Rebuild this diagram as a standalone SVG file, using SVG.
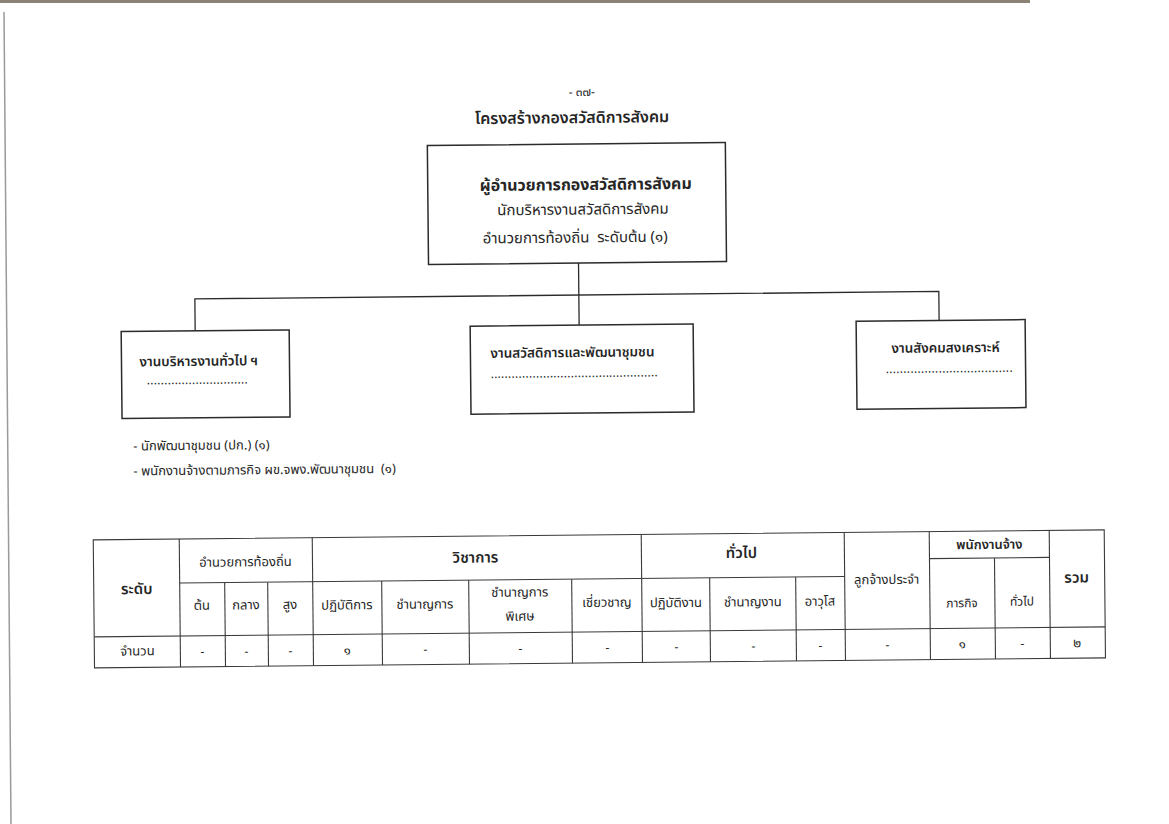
<svg xmlns="http://www.w3.org/2000/svg" width="1169" height="824" viewBox="0 0 1169 824">
<style>
text{font-family:"Noto Sans Thai","Noto Sans","DejaVu Sans",sans-serif;fill:#262626;white-space:pre;}
.box{fill:none;stroke:#2b2b2b;stroke-width:1.5;}
.ln{stroke:#2b2b2b;stroke-width:1.3;fill:none;}
.tl{stroke:#3a3a3a;stroke-width:1.1;fill:none;}
.c{text-anchor:middle;dominant-baseline:central;}
.s13{font-size:13px;}
.s12{font-size:12px;}
.s15{font-size:15px;}
.b{font-weight:bold;}
.m{font-weight:600;}
</style>
<rect x="0" y="0" width="1169" height="824" fill="#ffffff"/>
<rect x="0" y="0" width="1030" height="3" fill="#8b8375"/>
<line x1="4" y1="12" x2="11" y2="824" stroke="#9a9a9a" stroke-width="1.5"/>
<g transform="rotate(-0.57 585 412)">
<g id="page-header">
<text class="c s12" x="585" y="92">- ๓๗-</text>
<text class="c m" x="575" y="118" font-size="16">โครงสร้างกองสวัสดิการสังคม</text>
</g>
<g id="connectors">
<line class="ln" x1="580" y1="263" x2="580" y2="325"/>
<polyline class="ln" points="196,327 196,295 940,295 940,324"/>
</g>
<g id="node-director">
<rect class="box" x="430" y="144" width="298" height="119"/>
<text class="c b" x="588" y="185" font-size="16">ผู้อำนวยการกองสวัสดิการสังคม</text>
<text class="c s15" x="585" y="210">นักบริหารงานสวัสดิการสังคม</text>
<text class="c s15" x="577" y="238" xml:space="preserve">อำนวยการท้องถิ่น  ระดับต้น (๑)</text>
</g>
<g id="node-general">
<rect class="box" x="122" y="327" width="168" height="87"/>
<text class="m" x="140" y="358" font-size="13.5" dominant-baseline="central">งานบริหารงานทั่วไป ฯ</text>
<text class="s12" x="147" y="380" textLength="101" lengthAdjust="spacing">.............................</text>
</g>
<g id="node-welfare">
<rect class="box" x="471" y="325" width="223" height="88"/>
<text class="m" x="491" y="353" font-size="13.5" dominant-baseline="central">งานสวัสดิการและพัฒนาชุมชน</text>
<text class="s12" x="491" y="377" textLength="167" lengthAdjust="spacing">................................................</text>
</g>
<g id="node-social">
<rect class="box" x="857" y="324" width="169" height="88"/>
<text class="m" x="892" y="352" font-size="13.5" dominant-baseline="central">งานสังคมสงเคราะห์</text>
<text class="s12" x="886" y="376" textLength="127" lengthAdjust="spacing">....................................</text>
</g>
<g id="staff-list">
<text class="s13" x="133" y="442" dominant-baseline="central">- นักพัฒนาชุมชน (ปก.) (๑)</text>
<text class="s13" x="133" y="467" dominant-baseline="central" xml:space="preserve">- พนักงานจ้างตามภารกิจ ผข.จพง.พัฒนาชุมชน  (๑)</text>
</g>
<g id="table">
<rect class="tl" x="92" y="535" width="1011" height="128"/>
<line class="tl" x1="178" y1="579" x2="843" y2="579"/>
<line class="tl" x1="928" y1="562" x2="1048" y2="562"/>
<line class="tl" x1="92" y1="632" x2="1103" y2="632"/>
<line class="tl" x1="178" y1="535" x2="178" y2="663"/>
<line class="tl" x1="223" y1="579" x2="223" y2="663"/>
<line class="tl" x1="266" y1="579" x2="266" y2="663"/>
<line class="tl" x1="311" y1="535" x2="311" y2="663"/>
<line class="tl" x1="380" y1="579" x2="380" y2="663"/>
<line class="tl" x1="467" y1="579" x2="467" y2="663"/>
<line class="tl" x1="570" y1="579" x2="570" y2="663"/>
<line class="tl" x1="640" y1="535" x2="640" y2="663"/>
<line class="tl" x1="708" y1="579" x2="708" y2="663"/>
<line class="tl" x1="794" y1="579" x2="794" y2="663"/>
<line class="tl" x1="843" y1="535" x2="843" y2="663"/>
<line class="tl" x1="928" y1="535" x2="928" y2="663"/>
<line class="tl" x1="993" y1="562" x2="993" y2="663"/>
<line class="tl" x1="1048" y1="535" x2="1048" y2="663"/>
<text class="c s15 m" x="135" y="585">ระดับ</text>
<text class="c s13" x="244" y="559">อำนวยการท้องถิ่น</text>
<text class="c s15 m" x="474" y="557">วิชาการ</text>
<text class="c s15 m" x="740" y="555">ทั่วไป</text>
<text class="c s13" x="885" y="583">ลูกจ้างประจำ</text>
<text class="c s13 m" x="988" y="549">พนักงานจ้าง</text>
<text class="c s15 m" x="1075" y="583">รวม</text>
<text class="c s13" x="200" y="602">ต้น</text>
<text class="c s13" x="244" y="602">กลาง</text>
<text class="c s13" x="288" y="602">สูง</text>
<text class="c s13" x="345" y="603">ปฏิบัติการ</text>
<text class="c s13" x="423" y="603">ชำนาญการ</text>
<text class="c s13" x="518" y="592">ชำนาญการ</text>
<text class="c s13" x="518" y="616">พิเศษ</text>
<text class="c s13" x="605" y="603">เชี่ยวชาญ</text>
<text class="c s13" x="674" y="604">ปฏิบัติงาน</text>
<text class="c s13" x="751" y="604">ชำนาญงาน</text>
<text class="c s13" x="818" y="604">อาวุโส</text>
<text class="c s12" x="960" y="607">ภารกิจ</text>
<text class="c s12" x="1020" y="606">ทั่วไป</text>
<text class="c s13" x="135" y="647">จำนวน</text>
<text class="c s12" x="200" y="648">-</text>
<text class="c s12" x="244" y="648">-</text>
<text class="c s12" x="288" y="648">-</text>
<text class="c s13" x="345" y="648">๑</text>
<text class="c s12" x="423" y="648">-</text>
<text class="c s12" x="518" y="648">-</text>
<text class="c s12" x="605" y="648">-</text>
<text class="c s12" x="674" y="648">-</text>
<text class="c s12" x="751" y="648">-</text>
<text class="c s12" x="818" y="648">-</text>
<text class="c s12" x="885" y="648">-</text>
<text class="c s13" x="960" y="648">๑</text>
<text class="c s12" x="1020" y="648">-</text>
<text class="c s13" x="1075" y="648">๒</text>
</g>
</g>
</svg>
